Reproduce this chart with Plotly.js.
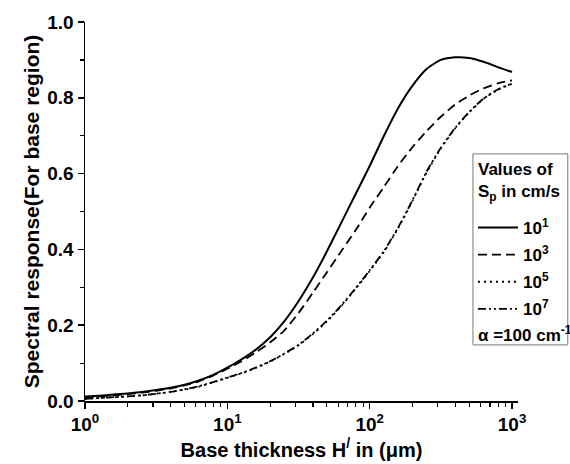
<!DOCTYPE html>
<html>
<head>
<meta charset="utf-8">
<script src="https://cdn.plot.ly/plotly-3.0.1.min.js"></script>
<style>html,body{margin:0;padding:0;background:#fff;} #chart{width:570px;height:464px;}</style>
</head>
<body>
<div id="chart"></div>
<script>
// Base thickness H' (µm), read at 0.1-decade steps
const thickness = [1, 1.26, 1.58, 2, 2.51, 3.16, 3.98, 5.01, 6.31, 7.94,
  10, 12.6, 15.8, 20, 25.1, 31.6, 39.8, 50.1, 63.1, 79.4,
  100, 126, 158, 200, 251, 316, 398, 501, 631, 794, 1000];
// Spectral response for Sp = 10^1, 10^3, 10^5, 10^7 cm/s
const sp1e1 = [0.012, 0.014, 0.017, 0.020, 0.024, 0.029, 0.035, 0.043, 0.054, 0.069,
  0.088, 0.110, 0.135, 0.168, 0.210, 0.263, 0.325, 0.395, 0.470, 0.545,
  0.620, 0.700, 0.772, 0.832, 0.876, 0.900, 0.907, 0.905, 0.895, 0.881, 0.868];
const sp1e3 = [0.010, 0.012, 0.015, 0.018, 0.022, 0.027, 0.033, 0.041, 0.052, 0.067,
  0.085, 0.105, 0.128, 0.155, 0.186, 0.232, 0.285, 0.340, 0.395, 0.450,
  0.510, 0.565, 0.620, 0.670, 0.712, 0.750, 0.782, 0.806, 0.825, 0.838, 0.846];
const sp1e5 = [0.006, 0.008, 0.010, 0.012, 0.015, 0.019, 0.024, 0.030, 0.038, 0.049,
  0.061, 0.073, 0.087, 0.104, 0.124, 0.147, 0.176, 0.210, 0.250, 0.295,
  0.343, 0.394, 0.455, 0.528, 0.603, 0.666, 0.719, 0.762, 0.797, 0.821, 0.837];
const sp1e7 = [0.006, 0.008, 0.010, 0.012, 0.015, 0.019, 0.024, 0.031, 0.039, 0.050,
  0.062, 0.074, 0.088, 0.105, 0.125, 0.148, 0.178, 0.212, 0.252, 0.297,
  0.345, 0.396, 0.457, 0.530, 0.605, 0.668, 0.720, 0.763, 0.798, 0.822, 0.838];
const seriesNames = ['10<sup>1</sup>', '10<sup>3</sup>', '10<sup>5</sup>', '10<sup>7</sup>'];
const xTickVals = [1, 10, 100, 1000];
const xTickText = ['10<sup>0</sup>', '10<sup>1</sup>', '10<sup>2</sup>', '10<sup>3</sup>'];
const xMinorVals = [2,3,4,5,6,7,8,9,20,30,40,50,60,70,80,90,200,300,400,500,600,700,800,900];

const FONT = 'Liberation Sans, Arial, sans-serif';
const dashes = ['solid', '9px,5px', '2px,4px', '8px,3px,2px,3px,2px,3px'];
const widths = [2, 1.8, 1.8, 1.8];
const ys = [sp1e1, sp1e3, sp1e5, sp1e7];

const traces = ys.map((y, i) => ({
  x: thickness, y: y, type: 'scatter', mode: 'lines', name: seriesNames[i],
  line: {color: '#000', width: widths[i], dash: dashes[i], shape: 'spline', smoothing: 0.6},
  legendgroup: 'g' + i
}));

const layout = {
  width: 570, height: 464,
  margin: {l: 85, r: 52, t: 22, b: 63},
  paper_bgcolor: '#fff', plot_bgcolor: '#fff',
  showlegend: true,
  font: {family: FONT, color: '#000'},
  xaxis: {
    type: 'log', range: [0, 3.042],
    tickvals: xTickVals, ticktext: xTickText,
    ticks: 'outside', ticklen: 6, tickwidth: 1.5, tickcolor: '#000',
    minor: {tickvals: xMinorVals, ticks: 'outside', ticklen: 4, tickwidth: 1.2, tickcolor: '#000', showgrid: false},
    showline: true, linecolor: '#000', linewidth: 1.5,
    showgrid: false, zeroline: false,
    tickfont: {family: FONT, size: 19, weight: 'bold'},
    title: {text: 'Base thickness H<sup>/</sup> in (\u03bcm)', font: {family: FONT, size: 20, weight: 'bold'}, standoff: 7}
  },
  yaxis: {
    range: [0, 1], dtick: 0.2, tickformat: '.1f',
    ticks: 'outside', ticklen: 6, tickwidth: 1.5, tickcolor: '#000',
    minor: {dtick: 0.1, ticks: 'outside', ticklen: 4, tickwidth: 1.2, tickcolor: '#000', showgrid: false},
    showline: true, linecolor: '#000', linewidth: 1.5,
    showgrid: false, zeroline: false,
    tickfont: {family: FONT, size: 19, weight: 'bold'},
    title: {text: 'Spectral response(For base region)', font: {family: FONT, size: 21, weight: 'bold'}, standoff: 2}
  },
  legend: {
    x: 0.896, y: 0.504, xanchor: 'left', yanchor: 'top',
    bgcolor: 'rgba(255,255,255,0)', borderwidth: 0,
    font: {family: FONT, size: 17, weight: 'bold', color: '#000'},
    itemwidth: 40, tracegroupgap: 2
  },
  shapes: [{
    type: 'rect', xref: 'paper', yref: 'paper',
    x0: 0.896, x1: 1.115, y0: 0.148, y1: 0.652,
    line: {color: '#777', width: 1}, fillcolor: 'rgba(0,0,0,0)'
  }],
  annotations: [{
    xref: 'paper', yref: 'paper', x: 0.902, y: 0.641, xanchor: 'left', yanchor: 'top', align: 'left',
    text: 'Values of<br>S<sub>p</sub> in cm/s', showarrow: false,
    font: {family: FONT, size: 17, weight: 'bold', color: '#000'}
  }, {
    xref: 'paper', yref: 'paper', x: 0.902, y: 0.177, xanchor: 'left', yanchor: 'middle',
    text: '\u03b1 =100 cm<sup>-1</sup>', showarrow: false,
    font: {family: FONT, size: 17, weight: 'bold', color: '#000'}
  }]
};

Plotly.newPlot('chart', traces, layout, {displayModeBar: false, staticPlot: true});
</script>
</body>
</html>
